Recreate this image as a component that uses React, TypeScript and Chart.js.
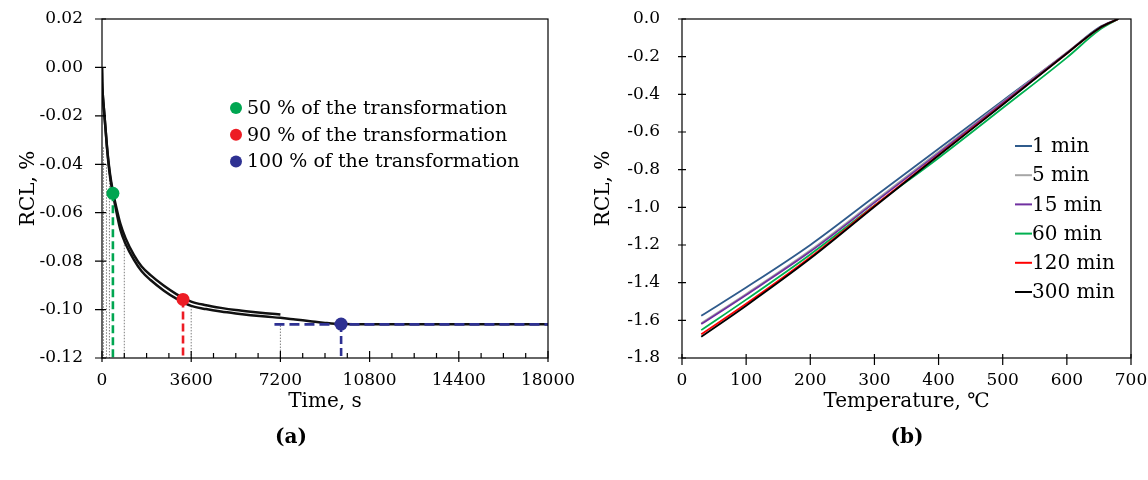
import { useEffect, useRef } from 'react';
import { Chart, registerables } from 'chart.js';

Chart.register(...registerables);

const FONT = '"DejaVu Serif", serif';

// ---- (a) isothermal holding: RCL vs. time ----
const time300 = [0, 10, 30, 60, 100, 150, 200, 250, 330, 436, 560, 740, 950, 1290, 1600, 1960, 2500, 3000, 3600, 4200, 4800, 5400, 6000, 6600, 7200, 7800, 8400, 9000, 9650, 10800, 12600, 14400, 16200, 18000];
const rcl300 = [0, -0.006, -0.011, -0.015, -0.02, -0.0265, -0.033, -0.0385, -0.0455, -0.052, -0.0585, -0.067, -0.0728, -0.0795, -0.0842, -0.0878, -0.0922, -0.0955, -0.0985, -0.0998, -0.1008, -0.1016, -0.1023, -0.1029, -0.1034, -0.1041, -0.1048, -0.1055, -0.106, -0.1061, -0.1061, -0.1061, -0.1061, -0.1061];

const time120 = [0, 10, 30, 60, 100, 150, 200, 250, 330, 436, 560, 740, 950, 1290, 1600, 1960, 2500, 3000, 3600, 4200, 4800, 5400, 6000, 6600, 7200];
const rcl120 = [0, -0.006, -0.011, -0.015, -0.02, -0.0262, -0.0325, -0.0378, -0.0445, -0.051, -0.057, -0.0645, -0.0705, -0.0775, -0.0822, -0.0858, -0.0902, -0.0936, -0.0967, -0.0982, -0.0993, -0.1002, -0.1009, -0.1015, -0.102];

// holding times (1, 3, 5, 15, 60, 120 min) and the level each drop line starts from
const holdEnds = [60, 180, 300, 900, 3600, 7200];
const holdEndLevels = [-0.033, -0.04, -0.044, -0.072, -0.0985, -0.1066];

const markerLabels = ['50 % of the transformation', '90 % of the transformation', '100 % of the transformation'];
const markerTimes = [440, 3270, 9650];
const markerRcl = [-0.052, -0.0958, -0.106];
const markerColors = ['#00a651', '#ed1c24', '#2e3192'];

const plateauFrom = 6960;
const plateauTo = 18000;
const plateauRcl = -0.1061;

const timeTicksStep = 3600;
const timeMinorStep = 900;

// ---- (b) cooling: RCL vs. temperature ----
const temperature = [30, 100, 200, 300, 400, 500, 600, 650, 680];
const rcl1min = [-1.576, -1.426, -1.2, -0.944, -0.689, -0.434, -0.179, -0.045, 0];
const rcl5min = [-1.615, -1.46, -1.228, -0.968, -0.705, -0.44, -0.178, -0.05, 0];
const rcl15min = [-1.62, -1.465, -1.235, -0.975, -0.712, -0.445, -0.18, -0.05, 0];
const rcl60min = [-1.652, -1.49, -1.25, -0.99, -0.738, -0.473, -0.205, -0.06, 0];
const rcl120min = [-1.674, -1.512, -1.265, -0.992, -0.722, -0.452, -0.183, -0.05, 0];
const rcl300min = [-1.687, -1.522, -1.272, -0.997, -0.725, -0.455, -0.183, -0.05, 0];

const seriesLabels = ['1 min', '5 min', '15 min', '60 min', '120 min', '300 min'];
const seriesColors = ['#2f5b8c', '#a6a6a6', '#7030a0', '#00b050', '#ff0000', '#000000'];
const seriesValues = [rcl1min, rcl5min, rcl15min, rcl60min, rcl120min, rcl300min];

const pts = (xs: number[], ys: number[]) => xs.map((x, i) => ({ x, y: ys[i] }));

const fixed = (digits: number) => (v: any) => {
  const s = Number(v).toFixed(digits);
  return Number(s) === 0 ? (0).toFixed(digits) : s;
};

// Box frame plus tick marks that cross the axes
const axisFrame = {
  id: 'axisFrame',
  afterDatasetsDraw(chart: any, _args: any, opts: any) {
    const { ctx, chartArea } = chart;
    const { left, right, top, bottom } = chartArea;
    const xs = chart.scales.x;
    const ys = chart.scales.y;
    ctx.save();
    ctx.strokeStyle = '#000';
    ctx.lineWidth = 1.2;
    ctx.strokeRect(left, top, right - left, bottom - top);
    ctx.beginPath();
    if (opts.xMinor) {
      for (let v = xs.min + opts.xMinor; v < xs.max; v += opts.xMinor) {
        const px = xs.getPixelForValue(v);
        ctx.moveTo(px, bottom - opts.xMinorIn);
        ctx.lineTo(px, bottom);
      }
    }
    xs.ticks.forEach((t: any) => {
      const px = xs.getPixelForValue(t.value);
      ctx.moveTo(px, bottom - opts.xIn);
      ctx.lineTo(px, bottom + opts.xOut);
    });
    ys.ticks.forEach((t: any) => {
      const py = ys.getPixelForValue(t.value);
      ctx.moveTo(left - opts.yOut, py);
      ctx.lineTo(left + opts.yIn, py);
    });
    ctx.stroke();
    ctx.restore();
  },
};

// Panel caption such as "(a)"
const caption = {
  id: 'caption',
  afterDraw(chart: any, _args: any, opts: any) {
    const { ctx } = chart;
    ctx.save();
    ctx.font = `bold 20px ${FONT}`;
    ctx.fillStyle = '#000';
    ctx.textAlign = 'center';
    ctx.textBaseline = 'middle';
    ctx.fillText(opts.text, opts.x, opts.y);
    ctx.restore();
  },
};

// Key with round markers (panel a)
const markerKey = {
  id: 'markerKey',
  afterDraw(chart: any, _args: any, opts: any) {
    const { ctx } = chart;
    ctx.save();
    ctx.font = `19px ${FONT}`;
    ctx.textBaseline = 'middle';
    ctx.textAlign = 'left';
    markerLabels.forEach((label, i) => {
      const y = opts.y + i * opts.dy;
      ctx.fillStyle = markerColors[i];
      ctx.beginPath();
      ctx.arc(opts.x, y, 6, 0, Math.PI * 2);
      ctx.fill();
      ctx.fillStyle = '#000';
      ctx.fillText(label, opts.x + 11, y + 1);
    });
    ctx.restore();
  },
};

// Key with short line samples (panel b)
const lineKey = {
  id: 'lineKey',
  afterDraw(chart: any, _args: any, opts: any) {
    const { ctx } = chart;
    ctx.save();
    ctx.font = `20px ${FONT}`;
    ctx.textBaseline = 'middle';
    ctx.textAlign = 'left';
    seriesLabels.forEach((label, i) => {
      const y = opts.y + i * opts.dy;
      ctx.strokeStyle = seriesColors[i];
      ctx.lineWidth = 2;
      ctx.beginPath();
      ctx.moveTo(opts.x, y);
      ctx.lineTo(opts.x + 17, y);
      ctx.stroke();
      ctx.fillStyle = '#000';
      ctx.fillText(label, opts.x + 17, y + 1);
    });
    ctx.restore();
  },
};

const fixedBox = (w?: number, h?: number) => (scale: any) => {
  if (w !== undefined) scale.width = w;
  if (h !== undefined) scale.height = h;
  scale.paddingLeft = 0;
  scale.paddingRight = 0;
  scale.paddingTop = 0;
  scale.paddingBottom = 0;
};

const tickFont = { family: FONT, size: 17 };
const titleFont = { family: FONT, size: 20 };

function buildTimeChart(canvas: HTMLCanvasElement) {
  const drop = holdEnds.map((t, i) => ({
    data: [{ x: t, y: holdEndLevels[i] }, { x: t, y: -0.12 }],
    showLine: true,
    borderColor: '#7f7f7f',
    borderWidth: 1,
    borderDash: [1.5, 1.5],
    pointRadius: 0,
    order: 6,
  }));
  const dashedDrops = markerTimes.map((t, i) => ({
    data: [{ x: t, y: markerRcl[i] }, { x: t, y: -0.12 }],
    showLine: true,
    borderColor: markerColors[i],
    borderWidth: 2.6,
    borderDash: [8, 4],
    pointRadius: 0,
    order: 2,
  }));
  return new Chart(canvas, {
    type: 'scatter',
    data: {
      datasets: [
        ...drop,
        {
          data: pts(time300, rcl300),
          showLine: true,
          borderColor: '#111',
          borderWidth: 2.5,
          pointRadius: 0,
          cubicInterpolationMode: 'monotone',
          order: 4,
        },
        {
          data: pts(time120, rcl120),
          showLine: true,
          borderColor: '#111',
          borderWidth: 2.5,
          pointRadius: 0,
          cubicInterpolationMode: 'monotone',
          order: 4,
        },
        ...dashedDrops,
        {
          data: [{ x: plateauFrom, y: plateauRcl }, { x: plateauTo, y: plateauRcl }],
          showLine: true,
          borderColor: markerColors[2],
          borderWidth: 2.6,
          borderDash: [10, 5],
          pointRadius: 0,
          order: 2,
        },
        {
          data: pts(markerTimes, markerRcl),
          showLine: false,
          pointRadius: 6.5,
          pointBackgroundColor: markerColors,
          pointBorderWidth: 0,
          order: 0,
        },
      ] as any,
    },
    options: {
      animation: false,
      responsive: false,
      events: [],
      layout: { padding: { left: 0, right: 26, top: 19, bottom: 0 } },
      plugins: {
        legend: { display: false },
        tooltip: { enabled: false },
        axisFrame: { xIn: 7, xOut: 4, xMinor: timeMinorStep, xMinorIn: 5, yIn: 4, yOut: 7 },
        caption: { text: '(a)', x: 291, y: 438 },
        markerKey: { x: 236, y: 108, dy: 26.7 },
      } as any,
      scales: {
        x: {
          type: 'linear',
          min: 0,
          max: 18000,
          grid: { display: false, drawTicks: false },
          border: { display: false },
          ticks: {
            stepSize: timeTicksStep,
            padding: 12,
            color: '#000',
            font: tickFont,
            callback: (v: any) => String(v),
          },
          title: {
            display: true,
            text: 'Time, s',
            color: '#000',
            font: titleFont,
            padding: { top: 0, bottom: 66 },
          },
          afterFit: fixedBox(undefined, 122),
        },
        y: {
          type: 'linear',
          min: -0.12,
          max: 0.02,
          grid: { display: false, drawTicks: false },
          border: { display: false },
          ticks: {
            stepSize: 0.02,
            padding: 19,
            color: '#000',
            font: tickFont,
            callback: fixed(2),
          },
          title: {
            display: true,
            text: 'RCL, %',
            color: '#000',
            font: titleFont,
            padding: { top: 17, bottom: 0 },
          },
          afterFit: fixedBox(102, undefined),
        },
      },
    } as any,
    plugins: [axisFrame, caption, markerKey],
  });
}

function buildTemperatureChart(canvas: HTMLCanvasElement) {
  return new Chart(canvas, {
    type: 'scatter',
    data: {
      datasets: seriesValues.map((vals, i) => ({
        label: seriesLabels[i],
        data: pts(temperature, vals),
        showLine: true,
        borderColor: seriesColors[i],
        borderWidth: 1.8,
        pointRadius: 0,
        cubicInterpolationMode: 'monotone',
        order: seriesValues.length - i,
      })) as any,
    },
    options: {
      animation: false,
      responsive: false,
      events: [],
      layout: { padding: { left: 0, right: 17, top: 19, bottom: 0 } },
      plugins: {
        legend: { display: false },
        tooltip: { enabled: false },
        axisFrame: { xIn: 4, xOut: 7, yIn: 4, yOut: 4 },
        caption: { text: '(b)', x: 333, y: 438 },
        lineKey: { x: 441, y: 146, dy: 29.2 },
      } as any,
      scales: {
        x: {
          type: 'linear',
          min: 0,
          max: 700,
          grid: { display: false, drawTicks: false },
          border: { display: false },
          ticks: {
            stepSize: 100,
            padding: 12,
            color: '#000',
            font: tickFont,
            callback: (v: any) => String(v),
          },
          title: {
            display: true,
            text: 'Temperature, \u2103',
            color: '#000',
            font: titleFont,
            padding: { top: 0, bottom: 66 },
          },
          afterFit: fixedBox(undefined, 122),
        },
        y: {
          type: 'linear',
          min: -1.8,
          max: 0,
          grid: { display: false, drawTicks: false },
          border: { display: false },
          ticks: {
            stepSize: 0.2,
            padding: 22,
            color: '#000',
            font: tickFont,
            callback: fixed(1),
          },
          title: {
            display: true,
            text: 'RCL, %',
            color: '#000',
            font: titleFont,
            padding: { top: 18, bottom: 0 },
          },
          afterFit: fixedBox(108, undefined),
        },
      },
    } as any,
    plugins: [axisFrame, caption, lineKey],
  });
}

export default function App() {
  const leftRef = useRef<HTMLCanvasElement>(null);
  const rightRef = useRef<HTMLCanvasElement>(null);

  useEffect(() => {
    Chart.defaults.font.family = FONT;
    Chart.defaults.color = '#000';
    const a = buildTimeChart(leftRef.current as HTMLCanvasElement);
    const b = buildTemperatureChart(rightRef.current as HTMLCanvasElement);
    return () => {
      a.destroy();
      b.destroy();
    };
  }, []);

  return (
    <div style={{ position: 'fixed', left: 0, top: 0, width: 1148, height: 480, background: '#fff' }}>
      <canvas ref={leftRef} width={574} height={480} style={{ position: 'absolute', left: 0, top: 0 }} />
      <canvas ref={rightRef} width={574} height={480} style={{ position: 'absolute', left: 574, top: 0 }} />
    </div>
  );
}
